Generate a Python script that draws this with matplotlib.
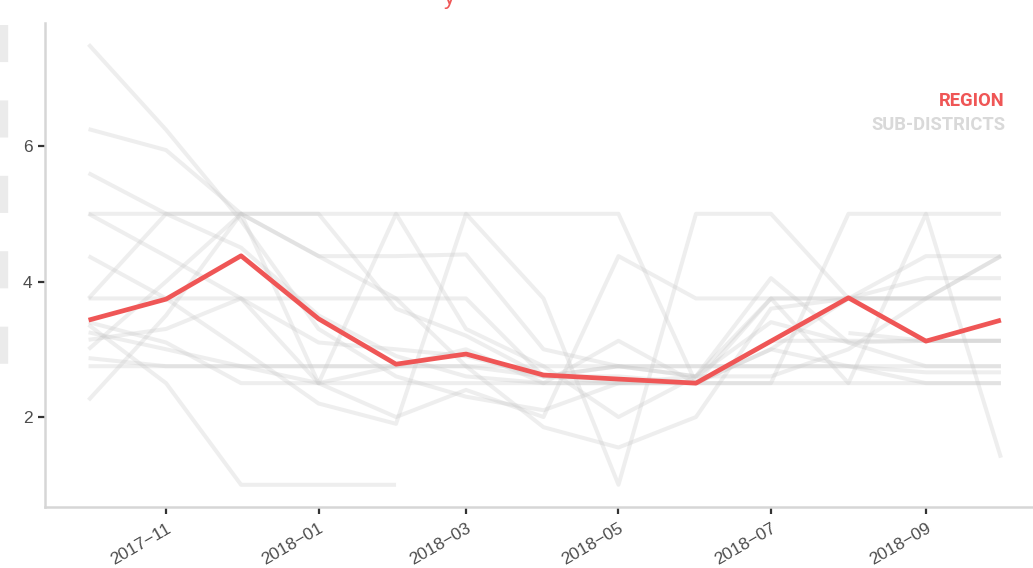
import numpy as np
import pandas as pd
import matplotlib
matplotlib.use("Agg")
import matplotlib.pyplot as plt
from matplotlib.lines import Line2D

plt.rcParams["font.family"] = ["Liberation Sans", "DejaVu Sans"]

nan = np.nan

MONTHS = pd.date_range("2017-10-01", "2018-10-01", freq="MS")

# region average (red)
REGION = [3.43, 3.74, 4.38, 3.45, 2.78, 2.93, 2.62, 2.56, 2.50, 3.12, 3.76, 3.12, 3.43]

# sub-district scores (grey), Oct 2017 .. Oct 2018
SUB_DISTRICTS = [
    [7.50, 6.24, 4.90, 3.30, 2.60, 2.30, 2.10, 2.50, 2.50, 3.00, 3.75, 3.75, 3.75],
    [6.25, 5.94, 5.00, 4.375, 4.375, 4.40, 3.00, 2.75, 2.60, 3.75, 3.75, 3.75, 4.375],
    [5.60, 5.00, 4.50, 3.50, 2.90, 2.60, 2.50, 3.125, 2.50, 3.00, 2.75, 2.66, 2.66],
    [5.00, 5.00, 5.00, 5.00, 5.00, 5.00, 5.00, 5.00, 2.50, 2.50, 5.00, 5.00, 5.00],
    [5.00, 4.375, 3.75, 3.10, 3.00, 2.90, 2.60, 2.75, 2.60, 3.40, 3.10, 3.125, 3.125],
    [4.375, 3.75, 3.00, 2.20, 1.90, 5.00, 3.75, 1.00, 5.00, 5.00, 3.75, 3.75, 3.75],
    [3.75, 5.00, 5.00, 5.00, 3.60, 3.20, 2.60, 2.60, 2.50, 3.75, 3.75, 4.375, 4.375],
    [3.75, 3.75, 3.75, 3.75, 3.75, 3.75, 2.60, 2.50, 2.50, 3.125, 3.125, 3.125, 3.125],
    [3.36, 2.50, 1.00, 1.00, 1.00, nan, nan, nan, nan, nan, nan, nan, nan],
    [3.14, 3.30, 3.75, 2.50, 5.00, 3.30, 2.75, 2.00, 2.60, 4.05, 3.10, 2.75, 2.75],
    [3.00, 4.00, 5.00, 4.375, 3.75, 2.75, 1.85, 1.55, 2.00, 3.60, 3.75, 4.05, 4.05],
    [2.87, 2.75, 2.75, 2.75, 2.75, 2.75, 2.75, 2.75, 2.75, 2.75, 2.75, 2.75, 2.75],
    [2.75, 2.75, 2.75, 2.75, 2.75, 2.75, 2.60, 2.75, 2.75, 2.75, 2.75, 2.50, 2.50],
    [2.25, 3.50, 5.00, 2.50, 2.00, 2.40, 2.00, 4.375, 3.75, 3.75, 2.50, 5.00, 1.40],
    [3.40, 3.10, 2.50, 2.50, 2.50, 2.50, 2.50, 2.50, 2.50, 2.50, 2.50, 2.50, 2.50],
    [nan, nan, nan, nan, nan, nan, nan, nan, nan, nan, 3.24, 3.125, 3.125],
    [3.25, 3.00, 2.75, 2.50, 2.75, 3.00, 2.50, 2.50, 2.60, 2.60, 3.00, 3.75, 4.375],
]

Y_TICKS = [2, 4, 6]
X_TICKS = pd.date_range("2017-11-01", "2018-09-01", freq="2MS")

RED = "#ef5656"
GREY = "#c8c8c8"

fig = plt.figure(figsize=(10.33, 5.68), dpi=100)
ax = fig.add_axes([0.0436, 0.1074, 0.9564, 0.852])

for vals in SUB_DISTRICTS:
    ax.plot(MONTHS, vals, color=GREY, alpha=0.3, lw=2.9, solid_capstyle="butt")
ax.plot(MONTHS, REGION, color=RED, lw=3.4, solid_capstyle="butt", zorder=5)

ax.set_xlim(pd.Timestamp("2017-09-13 14:00"), pd.Timestamp("2018-10-13 20:00"))
ax.set_ylim(0.672, 7.815)

ax.set_yticks(Y_TICKS)
ax.set_yticklabels([str(t) for t in Y_TICKS])
ax.set_xticks(X_TICKS)
ax.set_xticklabels([d.strftime("%Y\u2212%m") for d in X_TICKS], rotation=30,
                   ha="right", rotation_mode="anchor")

for side in ["top", "right"]:
    ax.spines[side].set_visible(False)
for side in ["left", "bottom"]:
    ax.spines[side].set_color("#d6d6d6")
    ax.spines[side].set_linewidth(1.8)

ax.tick_params(axis="both", colors="#333333", width=1.6, length=5,
               labelsize=12.5, labelcolor="#4d4d4d")
ax.tick_params(axis="y", pad=4)
ax.tick_params(axis="x", pad=5)

# legend as coloured labels
lab_font = ["Roboto", "DejaVu Sans"]
ax.text(1005 / 1033, 1 - 101 / 568, "REGION", transform=fig.transFigure,
        ha="right", va="center", color=RED, fontsize=13.2, fontweight="bold",
        family=lab_font, fontstretch="condensed")
ax.text(1005 / 1033, 1 - 125 / 568, "SUB-DISTRICTS", transform=fig.transFigure,
        ha="right", va="center", color="#d9d9d9", fontsize=13.2, fontweight="bold",
        family=lab_font, fontstretch="condensed")

# cut-off title above the figure
fig.text(444 / 1033, 1 - 4 / 568, "y", color=RED, fontsize=16, va="baseline")

# dashed grey bar on the far left edge
fig.add_artist(Line2D([4 / 1033, 4 / 1033], [1 - 25 / 568, 1 - 370 / 568],
                      transform=fig.transFigure, color="#ebebeb", lw=6,
                      dashes=(4.45, 4.6)))

fig.savefig("out.png", dpi=100)
